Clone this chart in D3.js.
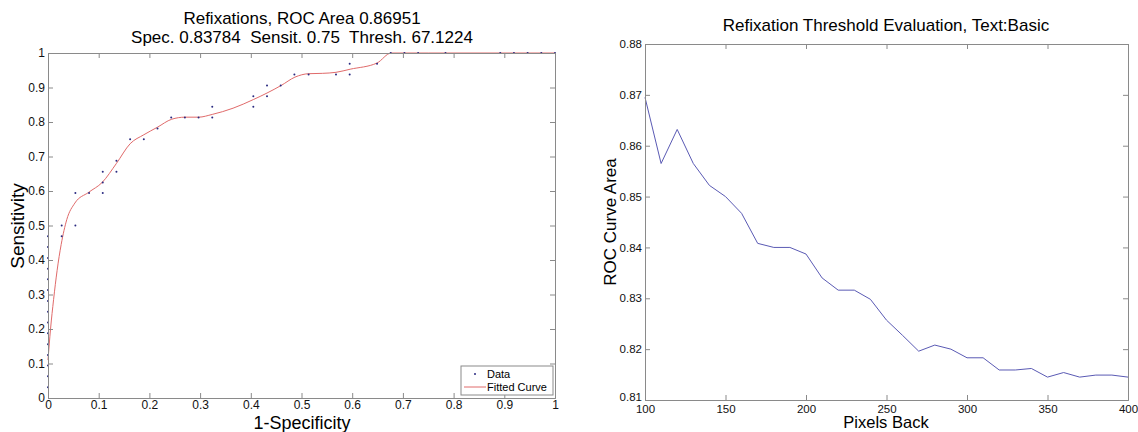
<!DOCTYPE html>
<html>
<head>
    <meta charset="utf-8">
    <style>
        body { margin: 0; background: #fff; }
        svg { font-family: Arial, "Liberation Sans", sans-serif; }
        .axis path, .axis line { stroke: #8a8a8a; }
        .axis text { fill: #111; }
    </style>
</head>
<body>
<svg width="1138" height="432"></svg>

<script src="https://d3js.org/d3.v7.min.js"></script>
<script>
    // left chart: ROC points (1 - specificity, sensitivity)
    let rocX = [0, 0, 0, 0, 0, 0, 0, 0, 0, 0, 0, 0, 0, 0, 0,
        0.027, 0.027, 0.054, 0.054, 0.081, 0.108, 0.108, 0.108, 0.135, 0.135,
        0.162, 0.189, 0.216, 0.243, 0.270, 0.297, 0.324, 0.324, 0.405, 0.405,
        0.432, 0.432, 0.459, 0.486, 0.514, 0.568, 0.595, 0.595, 0.649, 0.676,
        0.703, 0.730, 0.784, 0.892, 0.919, 0.946, 0.973, 1]
    let rocY = [0.031, 0.063, 0.094, 0.125, 0.156, 0.188, 0.219, 0.25, 0.281, 0.313, 0.344, 0.375, 0.406, 0.438, 0.469,
        0.469, 0.5, 0.5, 0.594, 0.594, 0.594, 0.625, 0.656, 0.656, 0.688,
        0.75, 0.75, 0.781, 0.813, 0.813, 0.813, 0.813, 0.844, 0.844, 0.875,
        0.875, 0.906, 0.906, 0.938, 0.938, 0.938, 0.938, 0.969, 0.969, 1,
        1, 1, 1, 1, 1, 1, 1, 1]

    // fitted curve
    let fitX = [0, 0.005, 0.011, 0.018, 0.026, 0.037, 0.053, 0.08, 0.107, 0.135, 0.162, 0.189, 0.216,
        0.244, 0.27, 0.297, 0.324, 0.365, 0.405, 0.432, 0.46, 0.487, 0.514, 0.541, 0.568, 0.596,
        0.649, 0.677, 0.75, 1]
    let fitY = [0.11, 0.2, 0.285, 0.37, 0.445, 0.517, 0.565, 0.596, 0.625, 0.68, 0.737, 0.763, 0.785,
        0.808, 0.814, 0.814, 0.822, 0.84, 0.865, 0.884, 0.906, 0.93, 0.94, 0.941, 0.944, 0.953,
        0.971, 1, 1, 1]

    // right chart: ROC area vs pixels back
    let pixelsBack = [100, 110, 120, 130, 140, 150, 160, 170, 180, 190, 200, 210, 220, 230, 240, 250,
        260, 270, 280, 290, 300, 310, 320, 330, 340, 350, 360, 370, 380, 390, 400]
    let rocArea = [0.8695, 0.8565, 0.8632, 0.8565, 0.8522, 0.8500, 0.8467, 0.8408, 0.8400, 0.8400,
        0.8387, 0.8340, 0.8316, 0.8316, 0.8298, 0.8257, 0.8227, 0.8196, 0.8208, 0.8200, 0.8183,
        0.8183, 0.8159, 0.8159, 0.8162, 0.8145, 0.8154, 0.8145, 0.8149, 0.8149, 0.8145]

    let leftTicks = [0, 0.1, 0.2, 0.3, 0.4, 0.5, 0.6, 0.7, 0.8, 0.9, 1]
    let rightXTicks = [100, 150, 200, 250, 300, 350, 400]
    let rightYTicks = [0.81, 0.82, 0.83, 0.84, 0.85, 0.86, 0.87, 0.88]

    let svg = d3.select("svg")

    // draws a MATLAB style box with inward ticks on all four sides
    function boxAxes(g, x, y, xt, yt, xfmt, yfmt, fs, pad) {
        let [x0, x1] = x.range()
        let [y0, y1] = y.range()
        g.append("g").attr("class", "axis").attr("transform", `translate(0,${y0})`)
            .call(d3.axisBottom(x).tickValues(xt).tickSize(-5).tickPadding(pad).tickFormat(xfmt))
            .call(a => a.selectAll("text").style("font-size", fs + "px"))
        g.append("g").attr("class", "axis").attr("transform", `translate(0,${y1})`)
            .call(d3.axisTop(x).tickValues(xt).tickSize(-5).tickFormat(""))
        let ya = g.append("g").attr("class", "axis").attr("transform", `translate(${x0},0)`)
            .call(d3.axisLeft(y).tickValues(yt).tickSize(-5).tickPadding(3).tickFormat(yfmt))
        ya.selectAll("text").style("font-size", fs + "px")
        g.append("g").attr("class", "axis").attr("transform", `translate(${x1},0)`)
            .call(d3.axisRight(y).tickValues(yt).tickSize(-5).tickFormat(""))
        g.selectAll(".axis .domain").attr("stroke", "#8a8a8a")
        return ya
    }

    // ---------- left chart ----------
    let xL = d3.scaleLinear().domain([0, 1]).range([48, 555])
    let yL = d3.scaleLinear().domain([0, 1]).range([398, 53])
    let left = svg.append("g")

    let fitLine = d3.line()
        .x((d, i) => xL(fitX[i]))
        .y((d, i) => yL(fitY[i]))
        .curve(d3.curveMonotoneX)

    left.append("path")
        .attr("d", fitLine(fitX))
        .style("fill", "none")
        .style("stroke", "#e06a6a")
        .style("stroke-width", 1)

    left.selectAll(".dot")
        .data(rocX)
        .join("circle")
        .attr("class", "dot")
        .attr("cx", (d, i) => xL(rocX[i]))
        .attr("cy", (d, i) => yL(rocY[i]))
        .attr("r", 1)
        .style("fill", "#2a2a80")

    boxAxes(left, xL, yL, leftTicks, leftTicks, d3.format("~g"), d3.format("~g"), 12, 2)

    // legend
    let lg = left.append("g").attr("transform", "translate(461,366)")
    lg.append("rect").attr("width", 92).attr("height", 29)
        .style("fill", "#fff").style("stroke", "#8a8a8a")
    lg.append("circle").attr("cx", 14).attr("cy", 8).attr("r", 1).style("fill", "#2a2a80")
    lg.append("text").attr("x", 26).attr("y", 12).text("Data").style("font-size", "11px")
    lg.append("line").attr("x1", 3).attr("x2", 25).attr("y1", 21).attr("y2", 21)
        .style("stroke", "#e06a6a")
    lg.append("text").attr("x", 26).attr("y", 25).text("Fitted Curve").style("font-size", "11px")

    left.append("text").attr("x", 302).attr("y", 24).attr("text-anchor", "middle")
        .style("font-size", "17px").text("Refixations, ROC Area 0.86951")
    left.append("text").attr("x", 302).attr("y", 43).attr("text-anchor", "middle")
        .style("font-size", "17px").attr("xml:space", "preserve")
        .text("Spec. 0.83784  Sensit. 0.75  Thresh. 67.1224")
    left.append("text").attr("x", 302).attr("y", 428.5).attr("text-anchor", "middle")
        .style("font-size", "18px").text("1-Specificity")
    left.append("text").attr("transform", "translate(24,226) rotate(-90)").attr("text-anchor", "middle")
        .style("font-size", "19px").text("Sensitivity")

    // ---------- right chart ----------
    let xR = d3.scaleLinear().domain([100, 400]).range([645, 1128])
    let yR = d3.scaleLinear().domain([0.81, 0.88]).range([400, 44])
    let right = svg.append("g")

    let areaLine = d3.line()
        .x((d, i) => xR(pixelsBack[i]))
        .y((d, i) => yR(rocArea[i]))

    right.append("path")
        .attr("d", areaLine(pixelsBack))
        .style("fill", "none")
        .style("stroke", "#5a5ab4")
        .style("stroke-width", 1)

    let yaR = boxAxes(right, xR, yR, rightXTicks, rightYTicks, d3.format("d"), d3.format(".2f"), 11.5, 5)
    // lowest y label sits just above the first x label, as in the original
    yaR.selectAll(".tick text").filter(d => d === 0.81).attr("dy", "0.05em")

    right.append("text").attr("x", 886).attr("y", 31).attr("text-anchor", "middle")
        .style("font-size", "17px").text("Refixation Threshold Evaluation, Text:Basic")
    right.append("text").attr("x", 886).attr("y", 428).attr("text-anchor", "middle")
        .style("font-size", "16.5px").text("Pixels Back")
    right.append("text").attr("transform", "translate(616,222) rotate(-90)").attr("text-anchor", "middle")
        .style("font-size", "17px").text("ROC Curve Area")
</script>
</body>
</html>
